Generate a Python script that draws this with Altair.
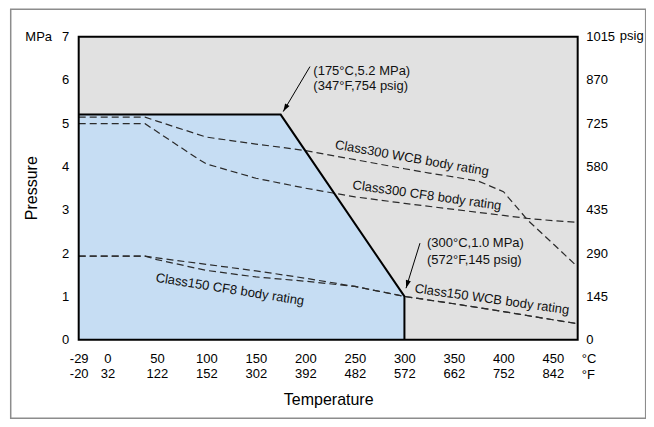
import altair as alt
import pandas as pd

# ---------------- data ----------------
c_ticks = [-29, 0, 50, 100, 150, 200, 250, 300, 350, 400, 450]
c_labels = ["-29", "0", "50", "100", "150", "200", "250", "300", "350", "400", "450"]
f_labels = ["-20", "32", "122", "152", "302", "392", "482", "572", "662", "752", "842"]
mpa_ticks = [0, 1, 2, 3, 4, 5, 6, 7]
psig_labels = ["0", "145", "290", "435", "580", "725", "870", "1015"]

env_t = [-29, 175, 300, 300]
env_p = [5.2, 5.2, 1.0, 0.0]

wcb300_t = [-29, 38, 50, 100, 150, 200, 250, 300, 325, 350, 375, 400, 425, 450, 475]
wcb300_p = [5.14, 5.14, 5.05, 4.68, 4.52, 4.37, 4.16, 3.95, 3.85, 3.76, 3.66, 3.42, 2.75, 2.22, 1.68]
cf8300_t = [-29, 38, 90, 100, 150, 200, 250, 300, 350, 400, 425, 450, 475]
cf8300_p = [4.99, 4.99, 4.20, 4.06, 3.73, 3.50, 3.30, 3.15, 3.01, 2.87, 2.80, 2.75, 2.71]
wcb150_t = [-29, 38, 50, 100, 150, 200, 250, 300, 350, 400, 450, 475]
wcb150_p = [1.93, 1.93, 1.89, 1.74, 1.59, 1.42, 1.23, 1.00, 0.83, 0.65, 0.46, 0.37]
cf8150_t = [-29, 38, 50, 100, 150, 200, 250, 300, 350, 400, 450, 475]
cf8150_p = [1.93, 1.93, 1.85, 1.60, 1.45, 1.35, 1.23, 1.00, 0.83, 0.65, 0.46, 0.37]

series_names = ["Class300 WCB", "Class300 CF8", "Class150 WCB", "Class150 CF8"]
label_texts = ["Class300 WCB body rating", "Class300 CF8 body rating",
               "Class150 WCB body rating", "Class150 CF8 body rating"]
label_t = [307.6, 322.8, 388.4, 123.8]
label_p = [4.19, 3.33, 0.93, 1.16]
label_angle = [10, 8, 8, 9]

note_texts = ["(175°C,5.2 MPa)", "(347°F,754 psig)", "(300°C,1.0 MPa)", "(572°F,145 psig)"]
note_t = [208.0, 208.0, 322.8, 322.8]
note_p = [6.21, 5.87, 2.24, 1.85]

arrow_t0 = [204.6, 315.7]
arrow_p0 = [6.31, 2.23]
arrow_t1 = [177.6, 301.6]
arrow_p1 = [5.27, 1.19]
arrow_angle = [210.7, 197.3]

# ---------------- frames ----------------
FONT = "Liberation Sans"
xs = alt.Scale(domain=[-29, 475], nice=False, zero=False)
ys = alt.Scale(domain=[0, 7], nice=False, zero=False)

env_df = pd.DataFrame({"T": env_t, "P": env_p, "i": list(range(len(env_t)))})
area_df = env_df.iloc[:3]

rows = []
for name, ts, ps in [(series_names[0], wcb300_t, wcb300_p), (series_names[1], cf8300_t, cf8300_p),
                     (series_names[2], wcb150_t, wcb150_p), (series_names[3], cf8150_t, cf8150_p)]:
    for t, p in zip(ts, ps):
        rows.append({"series": name, "T": t, "P": p})
lines_df = pd.DataFrame(rows)

labels_df = pd.DataFrame({"text": label_texts, "T": label_t, "P": label_p, "a": label_angle})
notes_df = pd.DataFrame({"text": note_texts, "T": note_t, "P": note_p})
arrows_df = pd.DataFrame({"T0": arrow_t0, "P0": arrow_p0, "T1": arrow_t1, "P1": arrow_p1, "a": arrow_angle})
border_df = pd.DataFrame({"T0": [-29], "T1": [475], "P0": [0], "P1": [7]})
one = pd.DataFrame({"k": [0]})


def lookup_expr(keys, vals):
    return "".join(f"datum.value == {k} ? '{v}' : " for k, v in zip(keys, vals)) + "''"


common = dict(ticks=False, domain=False, grid=False, labelFontSize=13, labelFlush=False,
              labelOverlap=False, labelColor="#000")

x_axis_c = alt.Axis(orient="bottom", values=c_ticks, labelExpr=lookup_expr(c_ticks, c_labels),
                    labelPadding=13, labelBaseline="top", title=None, **common)
x_axis_f = alt.Axis(orient="bottom", values=c_ticks, labelExpr=lookup_expr(c_ticks, f_labels),
                    labelPadding=28, labelBaseline="top",
                    title="Temperature", titleFontSize=16, titleFontWeight="normal",
                    titleColor="#000", titleX=249.5, titleY=65, titleBaseline="alphabetic",
                    **common)
y_axis_left = alt.Axis(orient="left", values=mpa_ticks, labelPadding=10,
                       title="Pressure", titleFontSize=16, titleFontWeight="normal",
                       titleColor="#000", titleX=-42, titleY=151, titleAngle=-90,
                       titleAlign="center", titleBaseline="alphabetic", **common)
y_axis_right = alt.Axis(orient="right", values=mpa_ticks, labelExpr=lookup_expr(mpa_ticks, psig_labels),
                        labelPadding=8, labelAlign="left", title=None, **common)

area = alt.Chart(area_df).mark_area(color="#c6ddf3", opacity=1).encode(
    x=alt.X("T:Q", scale=xs, axis=x_axis_c),
    y=alt.Y("P:Q", scale=ys, axis=y_axis_left),
)

dashed = alt.Chart(lines_df).mark_line(color="#2b2b2b", strokeWidth=1.2, strokeDash=[7, 4]).encode(
    x=alt.X("T:Q", scale=xs, axis=None),
    y=alt.Y("P:Q", scale=ys, axis=None),
    detail="series:N",
)

envelope = alt.Chart(env_df).mark_line(color="#000", strokeWidth=2).encode(
    x=alt.X("T:Q", scale=xs, axis=None),
    y=alt.Y("P:Q", scale=ys, axis=None),
    order="i:Q",
)

border = alt.Chart(border_df).mark_rect(fillOpacity=0, stroke="#000", strokeWidth=2).encode(
    x=alt.X("T0:Q", scale=xs, axis=x_axis_f),
    x2="T1:Q",
    y=alt.Y("P0:Q", scale=ys, axis=y_axis_right),
    y2="P1:Q",
)

labels = alt.Chart(labels_df).mark_text(font=FONT, fontSize=13, color="#111").encode(
    x=alt.X("T:Q", scale=xs, axis=None),
    y=alt.Y("P:Q", scale=ys, axis=None),
    text="text:N",
    angle=alt.Angle("a:Q", scale=None),
)

notes = alt.Chart(notes_df).mark_text(font=FONT, fontSize=13, color="#111", align="left",
                                      baseline="middle").encode(
    x=alt.X("T:Q", scale=xs, axis=None),
    y=alt.Y("P:Q", scale=ys, axis=None),
    text="text:N",
)

arrow_lines = alt.Chart(arrows_df).mark_rule(color="#000", strokeWidth=1).encode(
    x=alt.X("T0:Q", scale=xs, axis=None),
    y=alt.Y("P0:Q", scale=ys, axis=None),
    x2="T1:Q",
    y2="P1:Q",
)

arrow_heads = alt.Chart(arrows_df).mark_point(shape="M0,0L-0.32,1L0.32,1Z", filled=True,
                                             color="#000", opacity=1, size=256).encode(
    x=alt.X("T1:Q", scale=xs, axis=None),
    y=alt.Y("P1:Q", scale=ys, axis=None),
    angle=alt.Angle("a:Q", scale=None),
)

unit_style = dict(font=FONT, fontSize=13, color="#000")
mpa = alt.Chart(one).mark_text(align="center", baseline="middle", **unit_style).encode(
    x=alt.value(-40), y=alt.value(0), text=alt.value("MPa"))
psig = alt.Chart(one).mark_text(align="center", baseline="middle", **unit_style).encode(
    x=alt.value(553), y=alt.value(-1), text=alt.value("psig"))
degc = alt.Chart(one).mark_text(align="left", baseline="middle", **unit_style).encode(
    x=alt.value(503), y=alt.value(322), text=alt.value("°C"))
degf = alt.Chart(one).mark_text(align="left", baseline="middle", **unit_style).encode(
    x=alt.value(503), y=alt.value(338.5), text=alt.value("°F"))

frame = alt.Chart(one).mark_rect(fillOpacity=0, stroke="#8c8c8c", strokeWidth=1.5).encode(
    x=alt.value(-68), x2=alt.value(567), y=alt.value(-27.5), y2=alt.value(381.5))

chart = alt.layer(
    area, dashed, envelope, border, labels, notes, arrow_lines, arrow_heads,
    mpa, psig, degc, degf, frame,
).resolve_axis(x="independent", y="independent").properties(
    width=499, height=303,
    autosize=alt.AutoSizeParams(type="none"),
    padding={"left": 70.7, "top": 28.7, "right": 68, "bottom": 79},
    background="white",
).configure_view(
    fill="#e1e1e1", stroke=None,
).configure_axis(
    labelFont=FONT, titleFont=FONT,
)

chart.save("out.html", embed_options={"renderer": "svg", "actions": False})
